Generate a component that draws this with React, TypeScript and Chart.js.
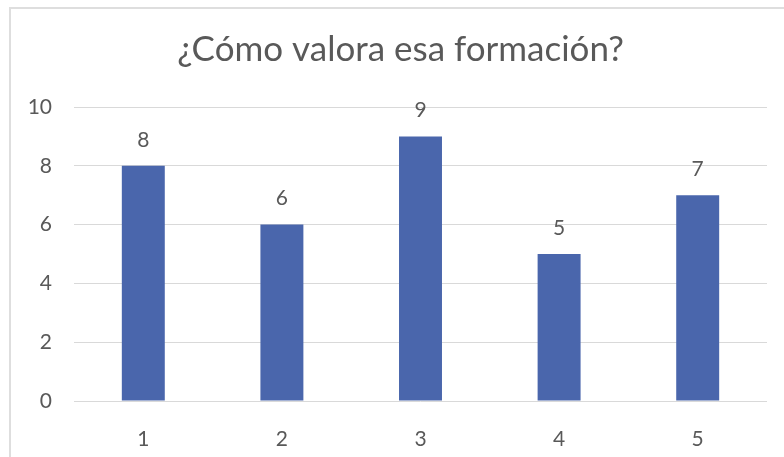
import React, { useEffect, useRef } from "react";
import { Chart, registerables } from "chart.js";

Chart.register(...registerables);

const titleText = "¿Cómo valora esa formación?";
const categories = ["1", "2", "3", "4", "5"];
const values = [8, 6, 9, 5, 7];
const yMin = 0;
const yMax = 10;
const yStep = 2;

const TEXT = "#595959";
const BAR = "#4A66AC";
const GRID = "#d9d9d9";
const FONT = "Lato, 'Open Sans', sans-serif";
const TICK_SIZE = 21;
const TITLE_SHIFT = 17;

const dataLabels = {
  id: "dataLabels",
  afterLayout(chart: any) {
    const tb = chart.titleBlock;
    if (tb) {
      tb.left += TITLE_SHIFT;
      tb.right += TITLE_SHIFT;
    }
  },
  afterDatasetsDraw(chart: any) {
    const ctx = chart.ctx;
    const meta = chart.getDatasetMeta(0);
    const ds = chart.data.datasets[0];
    ctx.save();
    ctx.fillStyle = TEXT;
    ctx.font = `${TICK_SIZE}px ${FONT}`;
    ctx.textAlign = "center";
    ctx.textBaseline = "middle";
    meta.data.forEach((bar: any, i: number) => {
      ctx.fillText(String(ds.data[i]), bar.x, bar.y - 26);
    });
    ctx.restore();
  },
};

export default function App() {
  const ref = useRef<HTMLCanvasElement>(null);
  useEffect(() => {
    if (!ref.current) return;
    const chart = new Chart(ref.current, {
      type: "bar",
      data: {
        labels: categories,
        datasets: [
          {
            data: values,
            backgroundColor: BAR,
            borderWidth: 0,
            barPercentage: 0.31,
            categoryPercentage: 1,
          },
        ],
      },
      options: {
        animation: false,
        responsive: false,
        maintainAspectRatio: false,
        layout: { padding: { left: 0, right: 17, top: 0, bottom: 0 } },
        plugins: {
          legend: { display: false },
          tooltip: { enabled: false },
          title: {
            display: true,
            text: titleText,
            color: TEXT,
            font: { family: FONT, size: 35, weight: "normal" as any, lineHeight: 1.2 },
            padding: { top: 29, bottom: 36 },
          },
        },
        scales: {
          x: {
            grid: { display: false },
            border: { display: false },
            ticks: {
              color: TEXT,
              font: { family: FONT, size: TICK_SIZE },
              padding: 18,
              maxRotation: 0,
            },
            afterFit(scale: any) {
              scale.height = 56;
            },
          },
          y: {
            min: yMin,
            max: yMax,
            grid: { color: GRID, lineWidth: 1, drawTicks: false },
            border: { display: false },
            ticks: {
              stepSize: yStep,
              color: TEXT,
              font: { family: FONT, size: TICK_SIZE },
              padding: 22,
            },
            afterFit(scale: any) {
              scale.width = 74;
            },
          },
        },
      },
      plugins: [dataLabels],
    });
    return () => chart.destroy();
  }, []);

  return (
    <div
      style={{
        position: "fixed",
        left: 0,
        top: 0,
        width: 784,
        height: 457,
        overflow: "hidden",
        background: "#fff",
      }}
    >
      <canvas
        ref={ref}
        width={784}
        height={457}
        style={{ position: "absolute", left: 0, top: 0, width: 784, height: 457 }}
      />
      <div
        style={{
          position: "absolute",
          left: 9,
          top: 7,
          width: 900,
          height: 600,
          border: "2px solid #dedede",
          pointerEvents: "none",
        }}
      />
    </div>
  );
}
